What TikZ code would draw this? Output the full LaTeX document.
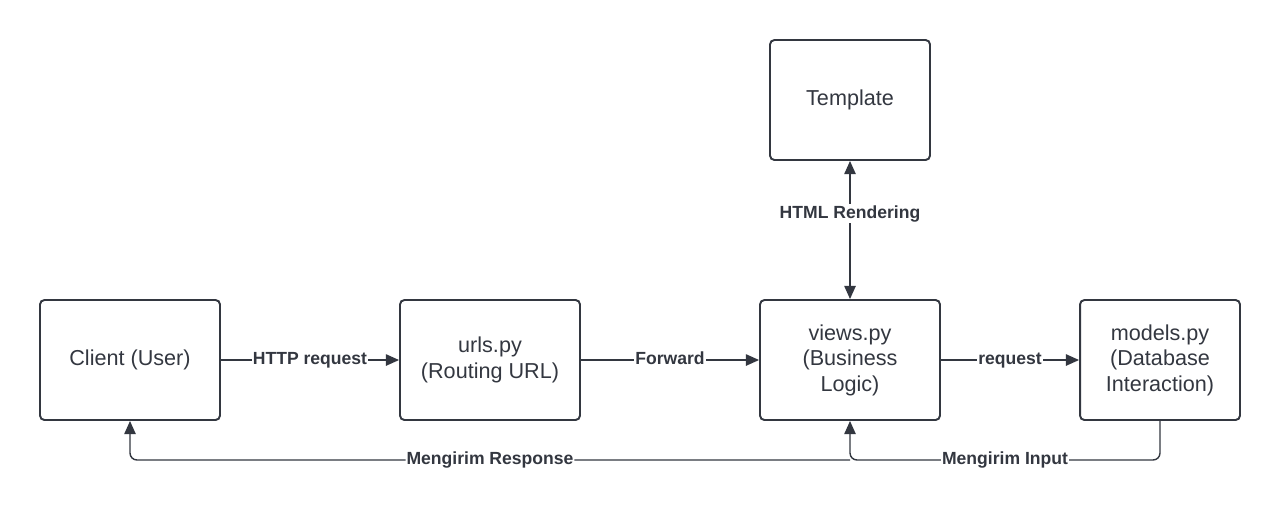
\documentclass[tikz,border=0pt]{standalone}
\usepackage{fontspec}
\setmainfont{Liberation Sans}
\usetikzlibrary{arrows.meta}
\definecolor{ink}{HTML}{333740}
\begin{document}
\begin{tikzpicture}[x=0.02cm, y=-0.02cm,
		component/.style={draw=ink, line width=1.1pt, rounded corners=2.5pt, minimum width=3.6cm, minimum height=2.4cm, align=center, text=ink, font=\fontsize{12.3}{14.5}\selectfont},
		flow/.style={draw=ink, line width=0.8pt, -{Triangle[length=7.5pt, width=6.5pt]}},
		lbl/.style={fill=white, inner sep=0.5pt, text height=7.5pt, text depth=2pt, text=ink, font=\fontsize{10}{12}\selectfont\bfseries}]
	\useasboundingbox (0,0) rectangle (1280,512);
	\node[component] (client) at (130, 360) {Client (User)};
	\node[component] (urls) at (490, 360) {urls.py\\(Routing URL)};
	\node[component] (views) at (850, 360) {views.py\\(Business\\Logic)};
	\node[component, minimum width=3.2cm] (models) at (1160, 360) {models.py\\(Database\\Interaction)};
	\node[component, minimum width=3.2cm] (template) at (850, 100) {Template};
	\coordinate (join) at (850, 460);
	\draw[flow] (client) -- node[lbl] {HTTP request} (urls);
	\draw[flow] (urls) -- node[lbl] {Forward} (views);
	\draw[flow] (views) -- node[lbl] {request} (models);
	\draw[flow, {Triangle[length=7.5pt, width=6.5pt]}-{Triangle[length=7.5pt, width=6.5pt]}] (views.north) -- node[lbl, pos=0.62] {HTML Rendering} (template.south);
	\draw[flow, rounded corners=4pt] (models.south) |- node[lbl, pos=0.75] {Mengirim Input} (join) -- (views.south);
	\draw[flow, rounded corners=4pt] (join) -| node[lbl, pos=0.25] {Mengirim Response} (client.south);
\end{tikzpicture}
\end{document}
